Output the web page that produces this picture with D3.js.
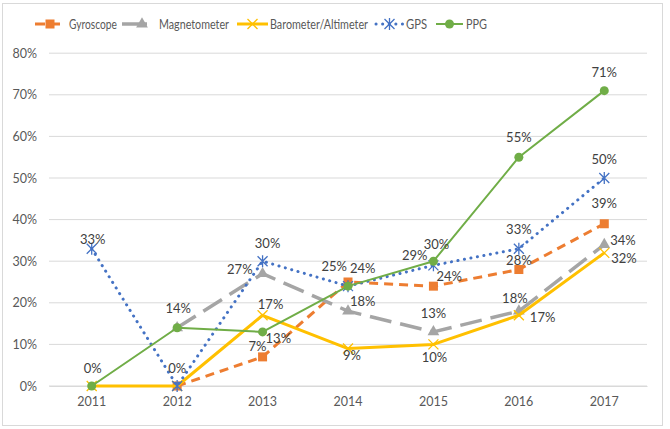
<!DOCTYPE html>
<html><head><meta charset="utf-8">
<script src="https://cdn.jsdelivr.net/npm/d3@7"></script>
<style>body{margin:0;background:#fff;} text{font-family:"Lato","Liberation Sans",sans-serif;}</style>
</head><body>
<svg id="c" width="670" height="429"></svg>
<script>
const years = ["2011","2012","2013","2014","2015","2016","2017"];
const yTicks = [0,0.1,0.2,0.3,0.4,0.5,0.6,0.7,0.8];
const gyroscope    = [null, 0, 0.07, 0.25, 0.24, 0.28, 0.39];
const magnetometer = [null, 0.14, 0.27, 0.18, 0.13, 0.18, 0.34];
const barometer    = [0, 0, 0.17, 0.09, 0.10, 0.17, 0.32];
const gps          = [0.33, 0, 0.30, 0.24, 0.29, 0.33, 0.50];
const ppg          = [0, 0.14, 0.13, 0.24, 0.30, 0.55, 0.71];
const seriesNames = ["Gyroscope","Magnetometer","Barometer/Altimeter","GPS","PPG"];
// label placement per point: [dx, dy(baseline), anchor] or null (style, not data)
const labelPos = {
  "Gyroscope":[null,null,[-5,-6,"middle"],[-1,-11,"end"],[3,-5,"start"],[0,-5,"middle"],[0,-16,"middle"]],
  "Magnetometer":[null,null,[-10,0,"end"],[2,-5,"start"],[0,-14,"middle"],[-4,-8,"middle"],[6,0,"start"]],
  "Barometer/Altimeter":[null,[0,-13,"middle"],[8,-6,"middle"],[4,11,"middle"],[1,18,"middle"],[11,7,"start"],[7,10,"start"]],
  "GPS":[[1,-5,"middle"],null,[5,-13,"middle"],null,[-6,-5,"end"],[0,-15,"middle"],[0,-14,"middle"]],
  "PPG":[[1,-13,"middle"],[1,-15,"middle"],[3,11,"start"],[2,-13,"start"],[3,-12,"middle"],[0,-15,"middle"],[0,-14,"middle"]]
};

const svg = d3.select("#c");
svg.append("rect").attr("x",2.5).attr("y",3.5).attr("width",660).attr("height",422)
  .attr("fill","#fff").attr("stroke","#d9d9d9");

const x = d3.scaleBand().domain(years).range([49,647]);
const y = d3.scaleLinear().domain([0,0.8]).range([386,53.2]);

svg.append("g").selectAll("line").data(yTicks).join("line")
  .attr("x1",49).attr("x2",647).attr("y1",d=>y(d)).attr("y2",d=>y(d))
  .attr("stroke","#d9d9d9").attr("stroke-width",1);

const ya = svg.append("g").attr("transform","translate(49,0)")
  .call(d3.axisLeft(y).tickValues(yTicks).tickFormat(d3.format(".0%")).tickSize(0).tickPadding(12));
ya.select(".domain").remove();
ya.selectAll("text").attr("fill","#595959").attr("font-size",12.5);

const xa = svg.append("g").attr("transform","translate(0,386)")
  .call(d3.axisBottom(x).tickSize(0).tickPadding(11));
xa.select(".domain").attr("stroke","#d9d9d9");
xa.selectAll("text").attr("fill","#595959").attr("font-size",12.5);

const cx = d => x(d) + x.bandwidth()/2;

const styles = {
  "Gyroscope":{data:gyroscope,color:"#ED7D31",w:3,dash:"9,6",cap:"butt",marker:"square"},
  "Magnetometer":{data:magnetometer,color:"#A5A5A5",w:3.5,dash:"22,9",cap:"butt",marker:"triangle"},
  "Barometer/Altimeter":{data:barometer,color:"#FFC000",w:3,dash:null,cap:"butt",marker:"x"},
  "GPS":{data:gps,color:"#4472C4",w:3,dash:"0.1,6.5",cap:"round",marker:"asterisk"},
  "PPG":{data:ppg,color:"#70AD47",w:2,dash:null,cap:"butt",marker:"circle"}
};

function drawMarker(g, type, px, py, color){
  if(type==="square"){
    g.append("rect").attr("x",px-4.5).attr("y",py-4.5).attr("width",9).attr("height",9).attr("fill",color);
  } else if(type==="triangle"){
    g.append("path").attr("d",d3.symbol(d3.symbolTriangle,60)()).attr("transform",`translate(${px},${py})`).attr("fill",color);
  } else if(type==="x"){
    g.append("path").attr("d",`M${px-5},${py-5}L${px+5},${py+5}M${px-5},${py+5}L${px+5},${py-5}`).attr("stroke",color).attr("stroke-width",1.3);
  } else if(type==="asterisk"){
    g.append("path").attr("d",`M${px-5},${py-5}L${px+5},${py+5}M${px-5},${py+5}L${px+5},${py-5}M${px},${py-6}L${px},${py+6}`).attr("stroke",color).attr("stroke-width",1.3);
  } else if(type==="circle"){
    g.append("circle").attr("cx",px).attr("cy",py).attr("r",4.5).attr("fill",color);
  }
}

const order = ["Gyroscope","Magnetometer","Barometer/Altimeter","GPS","PPG"];
order.forEach(name=>{
  const s = styles[name];
  const pts = years.map((yr,i)=>({yr, v:s.data[i]})).filter(p=>p.v!==null);
  const line = d3.line().x(p=>cx(p.yr)).y(p=>y(p.v));
  const g = svg.append("g");
  g.append("path").attr("d",line(pts)).attr("fill","none").attr("stroke",s.color)
    .attr("stroke-width",s.w).attr("stroke-dasharray",s.dash).attr("stroke-linecap",s.cap)
    .attr("stroke-linejoin","round");
  pts.forEach(p=>drawMarker(g,s.marker,cx(p.yr),y(p.v),s.color));
});

const fmt = d3.format(".0%");
order.forEach(name=>{
  const s = styles[name];
  years.forEach((yr,i)=>{
    const v = s.data[i]; const pos = labelPos[name][i];
    if(v===null || !pos) return;
    svg.append("text").attr("x",cx(yr)+pos[0]).attr("y",y(v)+pos[1]).attr("text-anchor",pos[2])
      .attr("fill","#404040").attr("font-size",13).text(fmt(v));
  });
});

const legendItems = [
  {name:"Gyroscope", x1:35, x2:65, tx:69, tw:48},
  {name:"Magnetometer", x1:122, x2:147, tx:159, tw:70},
  {name:"Barometer/Altimeter", x1:237, x2:268, tx:270, tw:98},
  {name:"GPS", x1:376, x2:403, tx:406, tw:21},
  {name:"PPG", x1:436, x2:463, tx:466, tw:21}
];
const lg = svg.append("g");
legendItems.forEach(it=>{
  const s = styles[it.name];
  const ly = 24;
  let dash = s.dash;
  if(it.name==="Gyroscope") dash = "10,5";
  if(it.name==="Magnetometer") dash = null;
  lg.append("line").attr("x1",it.x1).attr("x2",it.x2).attr("y1",ly).attr("y2",ly)
    .attr("stroke",s.color).attr("stroke-width",s.w).attr("stroke-dasharray",dash).attr("stroke-linecap",s.cap);
  const mx = it.name==="Magnetometer" ? 142 : (it.x1+it.x2)/2;
  drawMarker(lg,s.marker,mx,ly,s.color);
  lg.append("text").attr("x",it.tx).attr("y",ly+5).attr("fill","#595959").attr("font-size",13)
    .attr("textLength",it.tw).attr("lengthAdjust","spacingAndGlyphs").text(it.name);
});
</script>
</body></html>
